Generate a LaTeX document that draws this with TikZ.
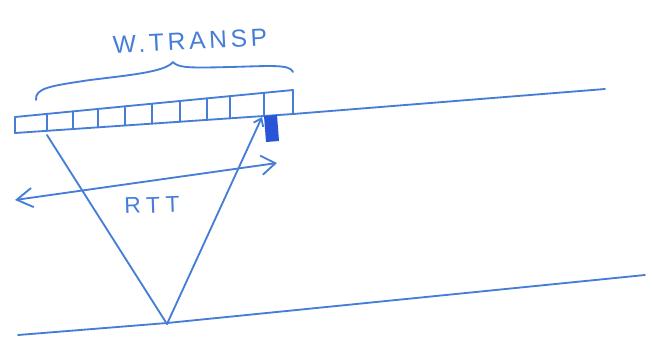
\documentclass[tikz,border=0pt]{standalone}
\usepackage{fontspec}
\setsansfont{Liberation Sans}
\usetikzlibrary{arrows.meta,positioning,calc}
\definecolor{penblue}{RGB}{70,125,215}
\definecolor{inkblue}{RGB}{40,85,215}

\begin{document}
\begin{tikzpicture}[
  x=0.02cm, y=-0.02cm,
  pen/.style={draw=penblue,line width=1.05pt,line cap=round,line join=round},
  hand/.style={text=penblue,inner sep=0pt,font=\sffamily\fontsize{13}{13}\selectfont\addfontfeature{LetterSpace=25}},
  rttarr/.style={pen,{Straight Barb[length=9pt,width=11pt]}-{Straight Barb[length=8pt,width=11pt]}},
  ackarr/.style={pen,-{Straight Barb[length=4pt,width=6pt]}}]
\useasboundingbox (0,0) rectangle (652,349);
\coordinate(sndL) at (15,133);
\coordinate(sndM) at (293,114);
\coordinate(sndR) at (605,89);
\coordinate(rcvL) at (18,335);
\coordinate(rcvM) at (167,323);
\coordinate(rcvR) at (645,275);
\coordinate(sent) at (47,135);
\coordinate(apex) at (167,324);
\coordinate(ack) at (262,117);
\coordinate(rttL) at (15,200);
\coordinate(rttR) at (277,163);
\coordinate(braceL) at (36,100);
\coordinate(braceTip) at (173,62);
\coordinate(braceR) at (293,72);
\draw[pen](sndL)--(sndM)--(sndR);
\draw[pen](rcvL)--(rcvM)--(rcvR);
% window cells
\draw[pen](15,117)--(293,90);
\foreach \x in {15,47,73,98,125,152,180,207,230,264,293}
  \draw[pen](\x,{117-(\x-15)*0.097})--(\x,{133-(\x-15)*0.068});
\fill[inkblue](264,116)--(277,115)--(279,141)--(266,142)--cycle;
\draw[pen](braceL) .. controls (35,88) and (50,86) .. (90,80)
  .. controls (130,75) and (165,72) .. (braceTip)
  .. controls (178,68) and (190,68) .. (230,67)
  .. controls (270,66) and (290,64) .. (braceR);
\node[hand,font=\sffamily\fontsize{14}{14}\selectfont\addfontfeature{LetterSpace=15},rotate=3](wtransp) at (190,41){W.TRANSP};
\draw[pen](sent)--(apex);
\draw[ackarr](apex)--(ack);
\draw[rttarr](rttL)--(rttR);
\node[hand,rotate=2](rtt) at (152,205){RTT};
\end{tikzpicture}
\end{document}
